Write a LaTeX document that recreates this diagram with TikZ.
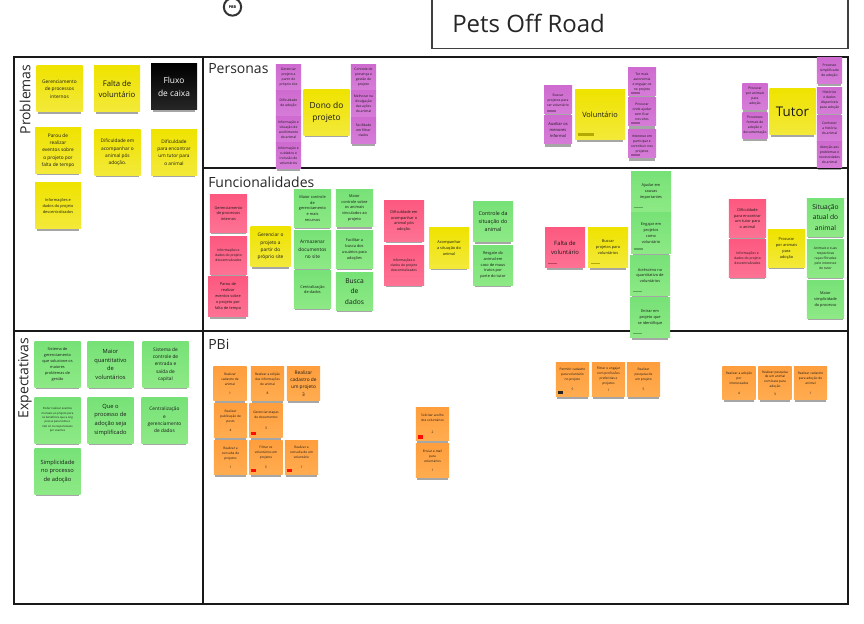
\documentclass[tikz,border=0pt]{standalone}
\usepackage{fontspec}
\setmainfont{Open Sans}
\usetikzlibrary{positioning,shadows}
\definecolor{ylwA}{HTML}{EFE300}
\definecolor{ylwB}{HTML}{F3E93A}
\definecolor{grnA}{HTML}{77E277}
\definecolor{grnB}{HTML}{8DE985}
\definecolor{redA}{HTML}{FD5980}
\definecolor{redB}{HTML}{FD7294}
\definecolor{purA}{HTML}{CF6BD0}
\definecolor{purB}{HTML}{D67CD8}
\definecolor{orgA}{HTML}{FF9E3D}
\definecolor{orgB}{HTML}{FFAC50}
\newcommand{\sz}[2]{\fontsize{#1}{#2}\selectfont}
\tikzset{
  sticky/.style={rectangle,inner sep=0pt,align=center,text=black!90,
    general shadow={fill=black,opacity=.35,shadow yshift=-3pt,shadow scale=.92}},
  ylw/.style={sticky,top color=ylwA,bottom color=ylwB},
  grn/.style={sticky,top color=grnA,bottom color=grnB},
  pnk/.style={sticky,top color=redA,bottom color=redB},
  pur/.style={sticky,top color=purA,bottom color=purB},
  org/.style={sticky,top color=orgA,bottom color=orgB,minimum width=25pt,minimum height=25pt,font=\sz{2.4}{3.7}},
  blk/.style={sticky,top color=black,bottom color=black!85,text=white},
  s19/.style={minimum width=18.8pt,minimum height=18.8pt},
  s21/.style={minimum width=21pt,minimum height=21pt},
  s28/.style={minimum width=28pt,minimum height=28pt},
  s31/.style={minimum width=30pt,minimum height=30pt},
  s34/.style={minimum width=34.5pt,minimum height=34.5pt},
  s38/.style={minimum width=37.5pt,minimum height=37.5pt},
  txtc/.style={font=\sz{2.9}{4.4}},
  txtd/.style={font=\sz{2.5}{3.7}},
  txtb/.style={font=\sz{3.6}{5.5}},
  txta/.style={font=\sz{5.8}{8.5}},
  tagbar/.style={rectangle,inner sep=0pt,minimum width=7pt,minimum height=1.2pt,fill=black!25!ylwA},
  tagsq/.style={rectangle,inner sep=0pt,minimum width=3.8pt,minimum height=2.4pt,fill=red!90!orange},
  panel/.style={line width=1.4pt,draw=black!90},
  lbl/.style={inner sep=0pt,font=\sz{10.5}{13},text=black!85}
}
\begin{document}
\begin{tikzpicture}[x=0.75pt,y=-0.75pt]
\useasboundingbox (0,0) rectangle (864,624);
\clip (0,0) rectangle (864,624);

\draw[line width=1.1pt,draw=black!75] (432,0) -- (432,48.5) -- (848,48.5) -- (848,0);
\node[inner sep=0pt,anchor=west,font=\sz{18}{22},text=black!85] (title) at (452,23) {Pets Off Road};
\node[circle,draw=black!80,line width=1.5pt,fill=white,minimum size=13pt,inner sep=0pt,font=\bfseries\sz{2.8}{3}] (pbb) at (232.5,7) {PBB};

\draw[panel] (14,57) rectangle (848,604);
\draw[panel] (203,57) -- (203,604);
\draw[panel] (14,331) -- (848,331);
\draw[panel] (203,168) -- (848,168);

\node[lbl,rotate=90] (lprob) at (25,99.5) {Problemas};
\node[lbl,rotate=90] (lexp) at (25,378) {Expectativas};
\node[lbl,anchor=west] (lper) at (208,69) {Personas};
\node[lbl,anchor=west] (lfun) at (208,182) {Funcionalidades};
\node[lbl,anchor=west] (lpbi) at (208,344) {PBi};

%%%%%%%% problemas
\node[ylw,s34,txtb] (p1) at (59.5,89) {Gerenciamento\\de processos\\internos};
\node[ylw,s34,txta] (p2) at (117,89) {Falta de\\voluntário};
\node[blk,s34,font=\sz{6.3}{10}] (p3) at (174,87) {Fluxo\\de caixa};
\node[ylw,s34,txtb] (p4) at (58,150.5) {Parou de\\realizar\\eventos sobre\\o projeto por\\falta de tempo};
\node[ylw,s34,txtb] (p5) at (117.5,152.5) {Dificuldade em\\acompanhar o\\animal pós\\adoção.};
\node[ylw,s34,txtb] (p6) at (174,152.5) {Dificuldade\\para encontrar\\um tutor para\\o animal};
\node[ylw,s34,txtc] (p7) at (58,206) {Informações e\\dados do projeto\\descentralizados};

%%%%%%%% personas
\node[pur,s19,txtd] (d1) at (288.5,77.5) {Gerenciar\\projeto a\\partir do\\próprio site};
\node[pur,s19,txtd] (d2) at (288.5,103.5) {Dificuldade\\de adoção};
\node[pur,s19,txtd] (d3) at (288.5,129.5) {Informação e\\situação de\\acolhimento\\do animal};
\node[pur,s19,txtd] (d4) at (288.5,155.5) {Informação e\\cuidados e\\inclusão de\\voluntários};
\node[ylw,s34,font=\sz{6.3}{9}] (dono) at (326.5,112.5) {Dono do\\projeto};
\node[pur,s19,txtd] (d5) at (363.5,77) {Controle de\\presença e\\gestão do\\projeto};
\node[pur,s19,txtd] (d6) at (363.5,103.5) {Melhorar na\\divulgação\\das ações\\do animal};
\node[pur,s19,txtd] (d7) at (363.5,130.5) {Facilidade\\em filtrar\\dados};

\node[pur,s21,txtd] (v1) at (558,100) {Buscar\\projetos para\\ser voluntário};
\node[pur,s21,font=\sz{3}{4.8}] (v2) at (558,130) {Auxiliar os\\menores\\Informal};
\node[ylw,s38,font=\sz{5.5}{8}] (volu) at (600,115) {Voluntário};
\node[pur,s21,txtd] (v3) at (642,82) {Ter mais\\autonomia\\e engajar-se\\no projeto};
\node[pur,s21,txtd] (v4) at (642,112) {Procurar\\onde ajudar\\sem ficar\\nos sites};
\node[pur,s21,txtd] (v5) at (642,144) {Interesse em\\participar e\\contribuir nos\\projetos};
\node[tagbar,fill=black!25!purA,above right=1.5pt and 2pt of v1.south west] (t1) {};
\node[tagbar,fill=black!25!purA,above right=1.5pt and 2pt of v3.south west] (t2) {};
\node[tagbar,fill=black!25!purA,above right=1.5pt and 2pt of v4.south west] (t3) {};
\node[tagbar,fill=black!25!purA,above right=1.5pt and 2pt of v5.south west] (t4) {};
\node[tagbar,minimum width=12pt,minimum height=2pt,above right=3pt and 2.5pt of volu.south west] (t5) {};

\node[pur,s19,txtd] (u1) at (755,96.5) {Procurar\\por animais\\para\\adoção};
\node[pur,s19,txtd] (u2) at (755,125.5) {Processos\\formais de\\adoção e\\documentação};
\node[ylw,s34,font=\sz{10}{12}] (tutor) at (792.5,112) {Tutor};
\node[pur,s19,txtd] (u3) at (829.5,70.5) {Processo\\simplificado\\de adoção};
\node[pur,s19,txtd] (u4) at (829.5,100.5) {Histórico\\e dados\\disponíveis\\para adoção};
\node[pur,s19,txtd] (u5) at (829.5,128.5) {Conhecer\\a história\\do animal};
\node[pur,s19,txtd] (u6) at (829.5,154.5) {Atenção aos\\problemas e\\necessidades\\do animal};

%%%%%%%% funcionalidades
\node[pnk,s28,txtc] (f1) at (228.5,213.5) {Gerenciamento\\de processos\\internos};
\node[pnk,s28,txtd] (f2) at (228.5,255.5) {Informações e\\dados do projeto\\descentralizados};
\node[pnk,s31,txtc] (f3) at (228,296.5) {Parou de\\realizar\\eventos sobre\\o projeto por\\falta de tempo};
\node[ylw,s31,txtb] (f4) at (270.5,246.5) {Gerenciar o\\projeto a\\partir do\\próprio site};
\node[grn,s28,txtc] (f5) at (312.5,208.5) {Maior controle\\de\\gerenciamento\\e mais\\recursos};
\node[grn,s28,txtb] (f6) at (312.5,249.5) {Armazenar\\documentos\\no site};
\node[grn,s28,txtc] (f7) at (312.5,289.5) {Centralização\\de dados};
\node[grn,s28,txtc] (f8) at (354.5,208) {Maior\\controle sobre\\os animais\\vinculados ao\\projeto};
\node[grn,s28,txtc] (f9) at (354.5,249.5) {Facilitar a\\busca dos\\usuários para\\adoções};
\node[grn,s28,font=\sz{5}{8}] (f10) at (354.5,291.5) {Busca\\de\\dados};

\node[pnk,s31,txtc] (g1) at (404,221) {Dificuldade em\\acompanhar o\\animal pós\\adoção.};
\node[pnk,s31,txtd] (g2) at (404,265) {Informações e\\dados do projeto\\descentralizados};
\node[ylw,s31,txtc] (g3) at (449,248) {Acompanhar\\a situação do\\animal};
\node[grn,s31,font=\sz{4}{6.2}] (g4) at (493,221.5) {Controle da\\situação do\\animal};
\node[grn,s31,txtc] (g5) at (493,265) {Resgate do\\animal em\\caso de maus\\tratos por\\parte do tutor};

\node[pnk,s31,font=\sz{4.4}{6.8}] (h1) at (565,247.5) {Falta de\\voluntário};
\node[ylw,s31,txtc] (h2) at (608,247.5) {Buscar\\projetos para\\voluntários};
\node[grn,s31,txtc] (h3) at (651,191.5) {Ajudar em\\causas\\importantes};
\node[grn,s31,txtc] (h4) at (651,233) {Engajar em\\projetos\\como\\voluntário};
\node[grn,s31,txtc] (h5) at (650,275.5) {Acréscimo no\\quantitativo de\\voluntários};
\node[grn,s31,txtc] (h6) at (650,317.5) {Entrar em\\projeto que\\se identifique};
\node[tagbar,fill=black!25!redA,above right=2.5pt and 2pt of h1.south west] (t6) {};
\node[tagbar,above right=2.5pt and 2pt of h2.south west] (t7) {};
\node[tagbar,fill=black!25!grnA,above right=2.5pt and 2pt of h3.south west] (t8) {};
\node[tagbar,fill=black!25!grnA,above right=2.5pt and 2pt of h4.south west] (t9) {};
\node[tagbar,fill=black!25!grnA,above right=2.5pt and 2pt of h5.south west] (t10) {};
\node[tagbar,fill=black!25!grnA,above right=2.5pt and 2pt of h6.south west] (t11) {};

\node[pnk,s28,txtc] (k1) at (747.5,218.5) {Dificuldade\\para encontrar\\um tutor para\\o animal};
\node[pnk,s28,txtd] (k2) at (747.5,258.5) {Informações e\\dados do projeto\\descentralizados};
\node[ylw,s28,txtc] (k3) at (786.5,248.5) {Procurar\\por animais\\para\\adoção};
\node[grn,s28,font=\sz{5}{7.6}] (k4) at (825.5,217.5) {Situação\\atual do\\animal};
\node[grn,s28,txtd] (k5) at (825.5,258.5) {Animais e suas\\respectivas\\raças filtradas\\pelo interesse\\do tutor};
\node[grn,s28,txtc] (k6) at (825.5,299.5) {Maior\\simplicidade\\do processo};

%%%%%%%% expectativas
\node[grn,s34,txtc] (e1) at (57.5,364.5) {Sistema de\\gerenciamento\\que solucione os\\maiores\\problemas de\\gestão};
\node[grn,s34,font=\sz{4.3}{6.6}] (e2) at (110.5,364.5) {Maior\\quantitativo\\de\\voluntários};
\node[grn,s34,txtb] (e3) at (165.5,364.5) {Sistema de\\controle de\\entrada e\\saída de\\capital};
\node[grn,s34,font=\sz{2.1}{3.3}] (e4) at (57.5,420) {Poder realizar eventos\\mensais ao projeto para\\os benefícios que a ong\\possui para todos e\\não só os responsáveis\\por eventos};
\node[grn,s34,font=\sz{4.3}{6.6}] (e5) at (110.5,420) {Que o\\processo de\\adoção seja\\simplificado};
\node[grn,s34,txtb] (e6) at (164.5,420) {Centralização\\e\\gerenciamento\\de dados};
\node[grn,s34,font=\sz{4.3}{6.6}] (e7) at (57.5,471.5) {Simplicidade\\no processo\\de adoção};

%%%%%%%% pbi
\node[org] (o1) at (230,383.5) {Realizar\\cadastro de\\animal\\[3pt]1};
\node[org] (o2) at (267.5,383.5) {Realizar a edição\\das informações\\do animal\\[3pt]8};
\node[org,font=\sz{3.6}{5.4}] (o3) at (303.5,383.5) {Realizar\\cadastro de\\um projeto\\3};
\node[org] (o4) at (230.5,420.5) {Realizar\\publicação de\\posts\\[3pt]4};
\node[org] (o5) at (266,420.5) {Gerenciar etapas\\de documentos\\[5pt]3};
\node[org] (o6) at (230.5,457.5) {Realizar a\\consulta de\\projetos\\[3pt]1};
\node[org] (o7) at (266,457.5) {Filtrar os\\voluntários em\\projetos\\[4pt]5};
\node[org] (o8) at (301.5,457.5) {Realizar a\\consulta de um\\voluntário\\[4pt]1};
\node[org] (o9) at (432.5,424) {Solicitar acolho\\dos voluntários\\[5pt]2};
\node[org] (o10) at (432.5,460.5) {Enviar e-mail\\para\\voluntários\\[3pt]1};
\node[org] (o11) at (572.5,379.5) {Permitir cadastro\\para voluntário\\no projeto\\[4pt]5};
\node[org] (o12) at (608.5,379.5) {Filtrar e engajar\\com profissões\\preferidas e\\projetos\\[2pt]1};
\node[org] (o13) at (643.5,379.5) {Realizar\\pesquisa de\\um projeto\\[4pt]5};
\node[org] (o14) at (739,383) {Realizar a adoção\\por\\interessados\\[4pt]4};
\node[org] (o15) at (775,383) {Realizar pesquisa\\de um animal\\com base para\\adoção\\[2pt]3};
\node[org] (o16) at (810.5,383) {Realizar cadastro\\para adoção de\\animal\\[4pt]1};
\node[tagsq,above right=1.5pt and 1.5pt of o5.south west] (q1) {};
\node[tagsq,above right=1.5pt and 1.5pt of o7.south west] (q2) {};
\node[tagsq,above right=1.5pt and 1.5pt of o8.south west] (q3) {};
\node[tagsq,above right=1.5pt and 1.5pt of o9.south west] (q4) {};
\node[tagsq,fill=black!85,above right=1.5pt and 1.5pt of o11.south west] (q5) {};

\end{tikzpicture}
\end{document}
